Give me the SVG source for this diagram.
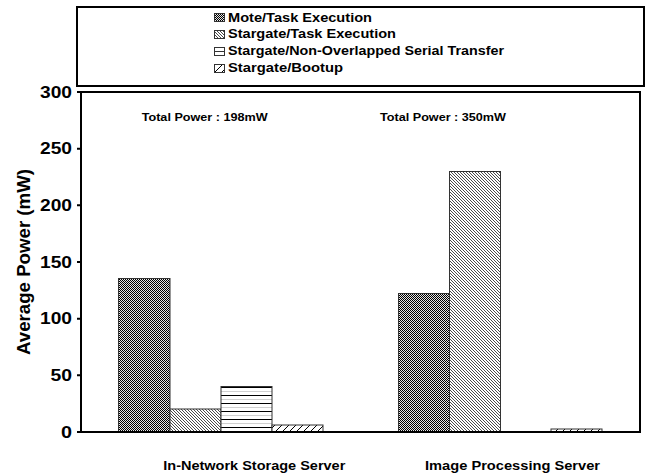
<svg xmlns="http://www.w3.org/2000/svg" width="647" height="475" viewBox="0 0 647 475">
  <style>
    text { font-family: "Liberation Sans", Arial, sans-serif; font-weight: bold; fill: #000; }
    .leg { font-size: 13px; }
    .tick { font-size: 16px; text-anchor: end; }
    .note { font-size: 11.8px; }
    .cat { font-size: 13px; }
    .frame { fill: none; stroke: #000; stroke-width: 2; }
    .bar { stroke: #333; stroke-width: 1; }
    .axis { stroke: #000; stroke-width: 2; fill: none; }
  </style>
  <defs>
    <!-- fine checker for Mote task execution -->
    <pattern id="p-mote" patternUnits="userSpaceOnUse" width="2" height="2">
      <rect width="2" height="2" fill="#e6e6e6"/>
      <rect x="0" y="0" width="1" height="1" fill="#000"/>
      <rect x="1" y="1" width="1" height="1" fill="#000"/>
    </pattern>
    <!-- fine back-slash hatch for Stargate task execution -->
    <pattern id="p-sgtask" patternUnits="userSpaceOnUse" width="3" height="3">
      <rect width="3" height="3" fill="#fff"/>
      <rect x="0" y="0" width="1" height="1" fill="#4a4a4a"/>
      <rect x="1" y="1" width="1" height="1" fill="#4a4a4a"/>
      <rect x="2" y="2" width="1" height="1" fill="#4a4a4a"/>
    </pattern>
    <!-- horizontal rules for serial transfer -->
    <pattern id="p-serial" patternUnits="userSpaceOnUse" width="8" height="8" y="3">
      <rect width="8" height="8" fill="#fff"/>
      <rect x="0" y="0" width="8" height="1" fill="#000"/>
      <rect x="0" y="4" width="8" height="1" fill="#d0d0d0"/>
    </pattern>
    <!-- forward-slash hatch for bootup -->
    <pattern id="p-boot" patternUnits="userSpaceOnUse" width="7" height="7">
      <rect width="7" height="7" fill="#fff"/>
      <path d="M-1,8 L8,-1" stroke="#000" stroke-width="1"/>
    </pattern>
  </defs>

  <rect width="647" height="475" fill="#fff"/>

  <!-- legend -->
  <g id="legend">
    <rect class="frame" x="77" y="7" width="567" height="79"/>
    <g id="legend-mote">
      <rect x="214.5" y="13.5" width="10" height="8" fill="url(#p-mote)" stroke="#333" stroke-width="1"/>
      <text class="leg" x="228" y="21.5" textLength="144" lengthAdjust="spacingAndGlyphs">Mote/Task Execution</text>
    </g>
    <g id="legend-sgtask">
      <rect x="214.5" y="30.5" width="10" height="8" fill="url(#p-sgtask)" stroke="#333" stroke-width="1"/>
      <text class="leg" x="228" y="38.3" textLength="168" lengthAdjust="spacingAndGlyphs">Stargate/Task Execution</text>
    </g>
    <g id="legend-serial">
      <rect x="214.5" y="47.5" width="10" height="8" fill="#fff" stroke="#333" stroke-width="1"/>
      <line x1="214.5" y1="51.5" x2="224.5" y2="51.5" stroke="#333" stroke-width="1"/>
      <text class="leg" x="228" y="55.1" textLength="276" lengthAdjust="spacingAndGlyphs">Stargate/Non-Overlapped Serial Transfer</text>
    </g>
    <g id="legend-boot">
      <rect x="214.5" y="64.5" width="10" height="8" fill="url(#p-boot)" stroke="#333" stroke-width="1"/>
      <text class="leg" x="228" y="72" textLength="115" lengthAdjust="spacingAndGlyphs">Stargate/Bootup</text>
    </g>
  </g>

  <!-- bars: 0 mW at y=432, 300 mW at y=92 -->
  <g id="storage-server">
    <rect id="storage-mote" class="bar" x="118.5" y="278.5" width="51.5" height="153.5" fill="url(#p-mote)"/>
    <rect id="storage-sgtask" class="bar" x="170" y="409" width="51" height="23" fill="url(#p-sgtask)"/>
    <rect id="storage-serial" class="bar" x="221" y="386.5" width="51" height="45.5" fill="url(#p-serial)"/>
    <rect id="storage-boot" class="bar" x="272" y="425" width="51" height="7" fill="url(#p-boot)"/>
  </g>
  <g id="image-server">
    <rect id="image-mote" class="bar" x="398.5" y="293.5" width="51" height="138.5" fill="url(#p-mote)"/>
    <rect id="image-sgtask" class="bar" x="449.5" y="171.5" width="51" height="260.5" fill="url(#p-sgtask)"/>
    <rect id="image-boot" class="bar" x="551" y="429" width="51" height="3" fill="url(#p-boot)"/>
  </g>

  <!-- plot frame and axis ticks -->
  <g id="axes">
    <rect class="frame" x="81" y="92" width="559" height="340"/>
    <path class="axis" d="M77,92H81M77,148.7H81M77,205.3H81M77,262H81M77,318.7H81M77,375.3H81M77,432H81"/>
  </g>

  <g id="y-labels">
    <text class="tick" x="72" y="97.7" textLength="32" lengthAdjust="spacingAndGlyphs">300</text>
    <text class="tick" x="72" y="154.4" textLength="32" lengthAdjust="spacingAndGlyphs">250</text>
    <text class="tick" x="72" y="211" textLength="32" lengthAdjust="spacingAndGlyphs">200</text>
    <text class="tick" x="72" y="267.7" textLength="32" lengthAdjust="spacingAndGlyphs">150</text>
    <text class="tick" x="72" y="324.4" textLength="32" lengthAdjust="spacingAndGlyphs">100</text>
    <text class="tick" x="72" y="381" textLength="21.5" lengthAdjust="spacingAndGlyphs">50</text>
    <text class="tick" x="72" y="437.7" textLength="11" lengthAdjust="spacingAndGlyphs">0</text>
    <text x="0" y="0" transform="translate(30,262) rotate(-90)" text-anchor="middle" font-size="17.5" textLength="186" lengthAdjust="spacingAndGlyphs">Average Power (mW)</text>
  </g>

  <g id="totals">
    <text class="note" x="141.7" y="120.7" textLength="126" lengthAdjust="spacingAndGlyphs">Total Power : 198mW</text>
    <text class="note" x="380" y="120.7" textLength="126" lengthAdjust="spacingAndGlyphs">Total Power : 350mW</text>
  </g>

  <g id="x-labels">
    <text class="cat" x="163.3" y="470" textLength="182" lengthAdjust="spacingAndGlyphs">In-Network Storage Server</text>
    <text class="cat" x="425" y="470" textLength="175" lengthAdjust="spacingAndGlyphs">Image Processing Server</text>
  </g>
</svg>
